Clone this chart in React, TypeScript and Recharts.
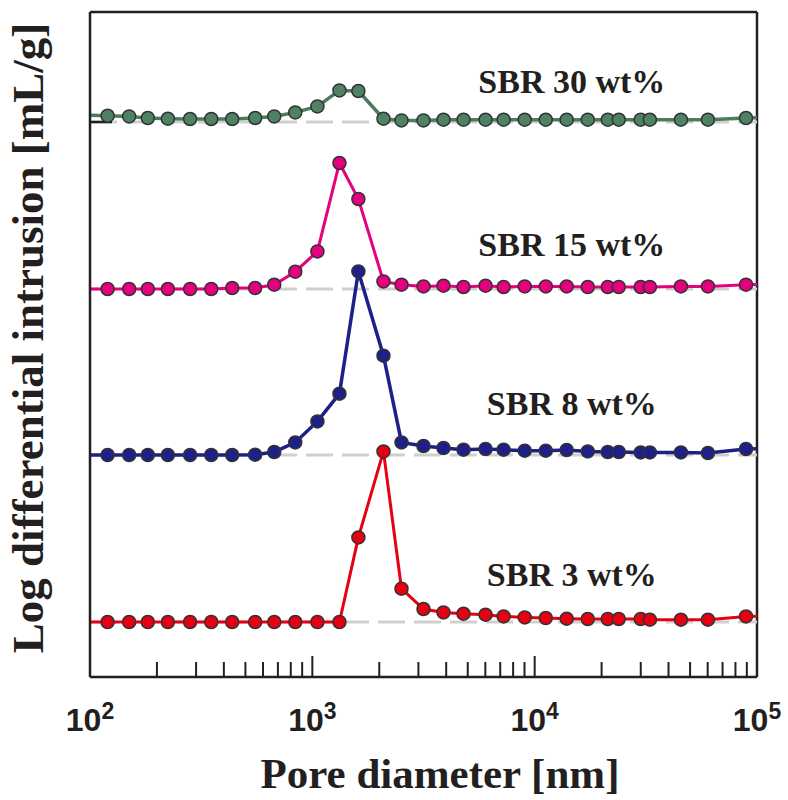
import React from "react";
import {
  LineChart,
  Line,
  XAxis,
  YAxis,
  ReferenceLine,
  ReferenceDot,
} from "recharts";

// pore diameters [nm]; first and last entries sit just outside the axis so the
// curves run on to the frame edges
const poreDiameter = [
  80, 120, 150, 182, 224, 282, 351, 436, 553, 674, 838, 1054, 1324, 1611, 2089,
  2518, 3162, 3890, 4786, 6013, 7250, 9020, 11220, 13930, 17330, 21320, 23890,
  29990, 32960, 45480, 60150, 89230, 120000,
];

// log differential intrusion [mL/g] for each SBR content
const sbr3 = [
  0, 0, 0, 0, 0, 0, 0, 0, 0, 0, 0, 0, 0, 0.846, 1.706, 0.333, 0.13, 0.096,
  0.083, 0.073, 0.056, 0.046, 0.04, 0.033, 0.03, 0.03, 0.03, 0.03, 0.023, 0.023,
  0.023, 0.056, 0.06,
];
const sbr8 = [
  0, 0, 0, 0, 0, 0, 0, 0, 0.003, 0.03, 0.126, 0.336, 0.613, 1.836, 0.993, 0.126,
  0.09, 0.07, 0.053, 0.06, 0.053, 0.043, 0.043, 0.05, 0.036, 0.03, 0.03, 0.026,
  0.026, 0.026, 0.02, 0.06, 0.065,
];
const sbr15 = [
  0, 0, 0, 0, 0, 0, 0, 0.01, 0.01, 0.043, 0.173, 0.376, 1.26, 0.9, 0.076, 0.043,
  0.026, 0.033, 0.02, 0.033, 0.02, 0.026, 0.026, 0.026, 0.02, 0.02, 0.02, 0.02,
  0.02, 0.026, 0.026, 0.043, 0.045,
];
const sbr30 = [
  0.073, 0.063, 0.056, 0.04, 0.033, 0.03, 0.03, 0.03, 0.04, 0.056, 0.096, 0.156,
  0.316, 0.31, 0.033, 0.016, 0.016, 0.023, 0.023, 0.023, 0.023, 0.023, 0.023,
  0.023, 0.023, 0.023, 0.023, 0.023, 0.023, 0.023, 0.023, 0.04, 0.045,
];

// vertical offsets used to stack the curves
const offsets = { s3: 0.55, s8: 2.22, s15: 3.88, s30: 5.55 };

const majorTicks = [100, 1000, 10000, 100000];
const minorTicks = [
  200, 300, 400, 500, 600, 700, 800, 900, 2000, 3000, 4000, 5000, 6000, 7000,
  8000, 9000, 20000, 30000, 40000, 50000, 60000, 70000, 80000, 90000,
];
const allTicks = [...majorTicks, ...minorTicks].sort((a, b) => a - b);

const Y_MAX = 6.65;
const INK = "#231f20";
const SERIF = "'Times New Roman', 'Liberation Serif', serif";
const SANS = "Arial, 'Liberation Sans', sans-serif";

const series = [
  { key: "s30", name: "SBR 30 wt%", color: "#4b7d5d", dot: "#4f8262", width: 3.5 },
  { key: "s15", name: "SBR 15 wt%", color: "#e5007f", dot: "#e4007f", width: 3 },
  { key: "s8", name: "SBR 8 wt%", color: "#1d2088", dot: "#1d2088", width: 3.5 },
  { key: "s3", name: "SBR 3 wt%", color: "#e60012", dot: "#e60012", width: 3 },
];

// label anchor: x in nm, y = baseline height above each curve's zero line
const labelX = 14700;
const labelLift = { s3: 0.36, s8: 0.4, s15: 0.33, s30: 0.29 };

const data = poreDiameter.map((d, i) => ({
  d,
  s3: sbr3[i] + offsets.s3,
  s8: sbr8[i] + offsets.s8,
  s15: sbr15[i] + offsets.s15,
  s30: sbr30[i] + offsets.s30,
}));

const AxisTick = (props: any) => {
  const { x, y, payload } = props;
  const v = payload.value as number;
  const major = majorTicks.includes(v);
  const exp = Math.round(Math.log10(v));
  return (
    <g>
      <line
        x1={x}
        y1={y}
        x2={x}
        y2={y - (major ? 21 : 15)}
        stroke={INK}
        strokeWidth={2}
      />
      {major && (
        <text
          x={x}
          y={y + 54}
          textAnchor="middle"
          fontFamily={SANS}
          fontWeight="bold"
          fontSize={32}
          fill={INK}
        >
          10
          <tspan fontSize={23} dy={-12}>
            {exp}
          </tspan>
        </text>
      )}
    </g>
  );
};

const SeriesLabel = (text: string) => (props: any) => {
  const { viewBox } = props;
  return (
    <text
      x={viewBox.x}
      y={viewBox.y}
      textAnchor="middle"
      fontFamily={SERIF}
      fontWeight="bold"
      fontSize={34}
      fill={INK}
    >
      {text}
    </text>
  );
};

export default function App() {
  return (
    <div style={{ position: "absolute", left: 0, top: 0, background: "#fff" }}>
      <LineChart
        width={788}
        height={800}
        data={data}
        margin={{ top: 12, right: 31, bottom: 93, left: 0 }}
      >
        <XAxis
          dataKey="d"
          type="number"
          scale="log"
          domain={[100, 100000]}
          allowDataOverflow
          ticks={allTicks}
          interval={0}
          tickLine={false}
          tickSize={0}
          tickMargin={0}
          tick={<AxisTick />}
          axisLine={{ stroke: INK, strokeWidth: 2.5 }}
          height={30}
          label={{
            position: "insideBottom",
            content: (p: any) => (
              <text
                x={440}
                y={p.viewBox.y + 111}
                textAnchor="middle"
                fontFamily={SERIF}
                fontWeight="bold"
                fontSize={43}
                fill={INK}
              >
                Pore diameter [nm]
              </text>
            ),
          }}
        />
        <YAxis
          type="number"
          domain={[0, Y_MAX]}
          allowDataOverflow
          ticks={[offsets.s30]}
          width={90}
          tickSize={-22}
          tickLine={{ stroke: INK, strokeWidth: 2.5 }}
          tick={() => <g />}
          axisLine={{ stroke: INK, strokeWidth: 2.5 }}
          label={{
            content: () => (
              <text
                x={43}
                y={338}
                transform="rotate(-90, 43, 338)"
                textAnchor="middle"
                fontFamily={SERIF}
                fontWeight="bold"
                fontSize={45}
                fill={INK}
              >
                Log differential intrusion [mL/g]
              </text>
            ),
          }}
        />
        {/* frame top and right */}
        <ReferenceLine y={Y_MAX} stroke={INK} strokeWidth={2.5} />
        <ReferenceLine x={100000} stroke={INK} strokeWidth={2.5} />

        {/* dashed zero lines under each curve */}
        {series.map((s) => (
          <ReferenceLine
            key={`base-${s.key}`}
            y={offsets[s.key as keyof typeof offsets]}
            stroke="#cfcfcf"
            strokeWidth={3}
            strokeDasharray="27 9"
          />
        ))}

        {series.map((s) => (
          <Line
            key={s.key}
            type="linear"
            dataKey={s.key}
            stroke={s.color}
            strokeWidth={s.width}
            dot={{ r: 6.5, fill: s.dot, stroke: "#333333", strokeWidth: 1.5 }}
            activeDot={false}
            isAnimationActive={false}
          />
        ))}

        {series.map((s) => {
          const k = s.key as keyof typeof offsets;
          return (
            <ReferenceDot
              key={`lbl-${s.key}`}
              x={labelX}
              y={offsets[k] + labelLift[k]}
              r={0}
              stroke="none"
              label={{ content: SeriesLabel(s.name) }}
            />
          );
        })}
      </LineChart>
    </div>
  );
}
